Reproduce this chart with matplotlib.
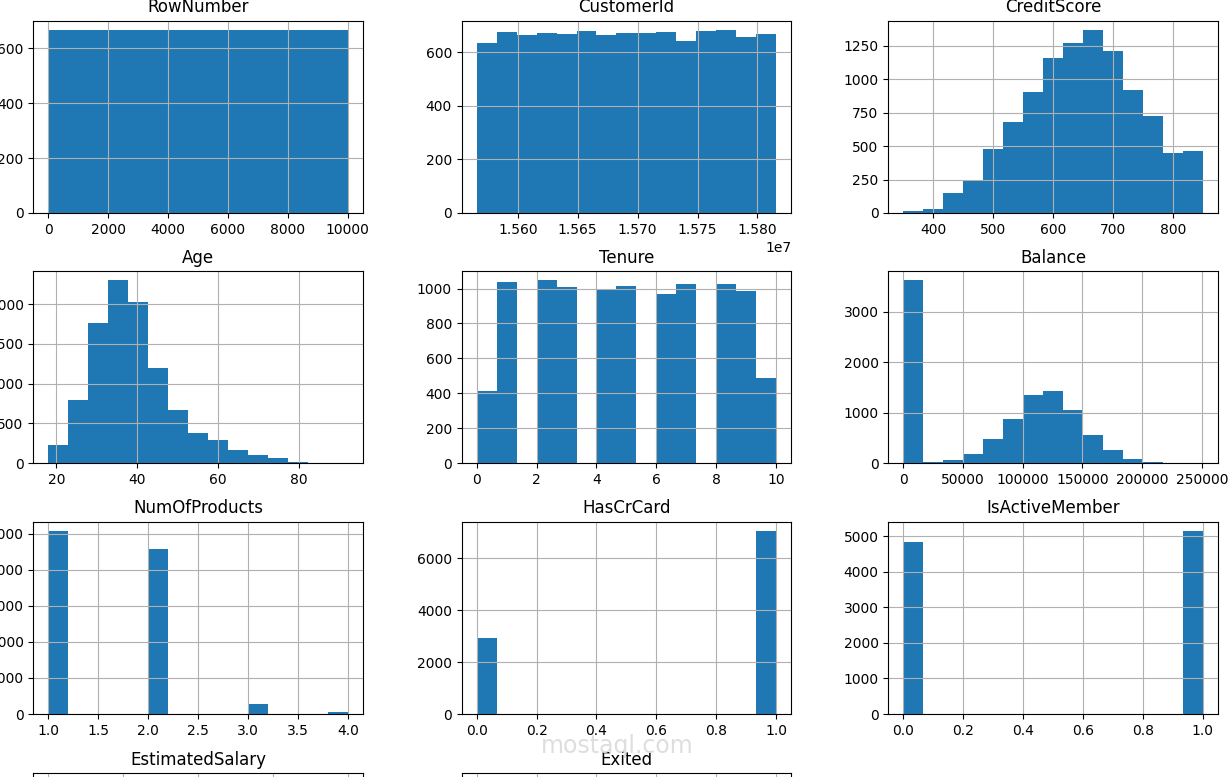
import numpy as np
import matplotlib
matplotlib.use("Agg")
import matplotlib.pyplot as plt
from matplotlib import rcParams

params = {
    'font.family': 'DejaVu Sans',
    'font.size': 10,
    'axes.titlesize': 12,
}
rcParams.update(params)

# histogram data (15 bins each): (range min, range max, counts)
row_range = (1, 10000)
row_counts = [667, 667, 666, 667, 666, 667, 667, 666, 667, 667, 666, 667, 667, 666, 667]

cust_range = (15565701, 15815690)
cust_counts = [636, 676, 666, 672, 668, 681, 666, 672, 672, 676, 643, 681, 684, 657, 669]

credit_range = (350, 850)
credit_counts = [17, 30, 147, 246, 480, 683, 905, 1156, 1270, 1369, 1208, 919, 723, 450, 465]

age_range = (18, 92)
age_counts = [230, 793, 1762, 2300, 2021, 1194, 664, 384, 292, 167, 100, 63, 17, 4, 2]

tenure_range = (0, 10)
tenure_counts = [413, 1035, 0, 1048, 1009, 0, 989, 1012, 0, 967, 1028, 0, 1025, 984, 490]

balance_range = (0, 250898.09)
balance_counts = [3623, 20, 60, 178, 481, 870, 1351, 1431, 1048, 567, 264, 79, 26, 4, 2]

nprod_range = (1, 4)
nprod_counts = [5084, 0, 0, 0, 0, 4590, 0, 0, 0, 0, 266, 0, 0, 0, 60]

card_range = (0, 1)
card_counts = [2945] + [0] * 13 + [7055]

active_range = (0, 1)
active_counts = [4849] + [0] * 13 + [5151]

salary_range = (11.58, 199992.48)
salary_counts = [664, 668, 676, 651, 670, 660, 668, 669, 675, 661, 672, 659, 665, 683, 659]

exited_range = (0, 1)
exited_counts = [7963] + [0] * 13 + [2037]

columns = [
    ("RowNumber", row_range, row_counts),
    ("CustomerId", cust_range, cust_counts),
    ("CreditScore", credit_range, credit_counts),
    ("Age", age_range, age_counts),
    ("Tenure", tenure_range, tenure_counts),
    ("Balance", balance_range, balance_counts),
    ("NumOfProducts", nprod_range, nprod_counts),
    ("HasCrCard", card_range, card_counts),
    ("IsActiveMember", active_range, active_counts),
    ("EstimatedSalary", salary_range, salary_counts),
    ("Exited", exited_range, exited_counts),
]

W, H = 1232, 777
fig = plt.figure(figsize=(W / 100, H / 100), dpi=100)

# pixel layout of the (cropped) 4x3 grid
col_left = [33.3, 461.7, 888.3]
ax_w = 329.5
row_top = [20.7, 271.0, 521.7, 773.3]
ax_h = 192.3

for i, (name, rng, counts) in enumerate(columns):
    r, c = divmod(i, 3)
    left = col_left[c] / W
    bottom = 1 - (row_top[r] + ax_h) / H
    ax = fig.add_axes([left, bottom, ax_w / W, ax_h / H])
    edges = np.linspace(rng[0], rng[1], len(counts) + 1)
    ax.hist(edges[:-1], bins=edges, weights=counts, color="#1f77b4")
    ax.grid(True)
    ax.set_title(name)

# faint watermark
fig.text(617 / W, 1 - 746 / H, "mostaql.com", color="#dedede", fontsize=17,
         ha="center", va="center", zorder=10)

fig.savefig("out.png", dpi=100)
